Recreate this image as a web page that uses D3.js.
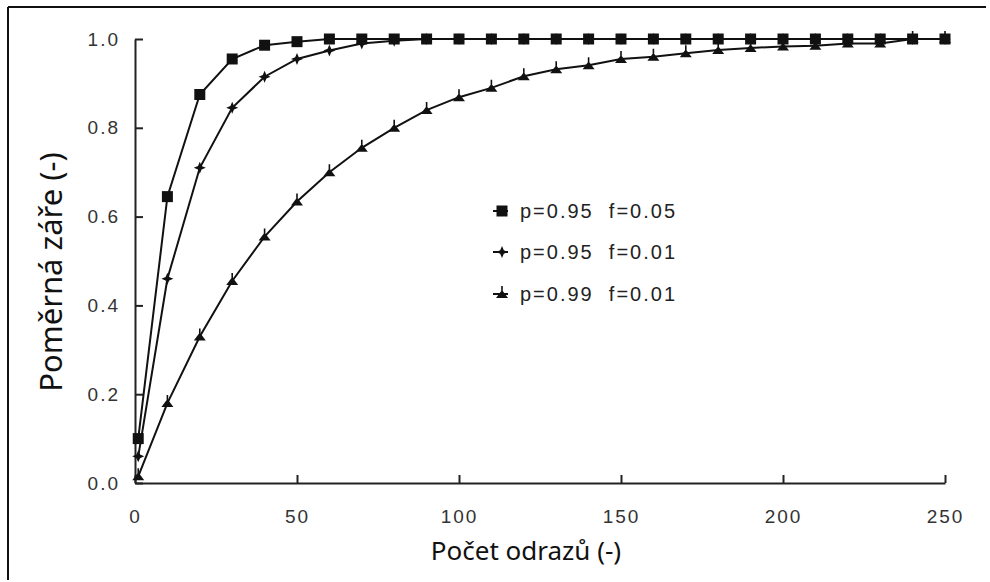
<!DOCTYPE html>
<html>
<head>
    <title>Poměrná záře</title>
</head>
<body>
<style type="text/css">
    body {
        margin: 0;
        background: #fff;
    }

    #renderer {
        width: 990px;
        height: 582px;
        background: #fff;
        display: block;
    }
</style>
<script type="text/javascript" src="https://cdnjs.cloudflare.com/ajax/libs/d3/7.8.5/d3.min.js"></script>
<svg id='renderer'></svg>

<script type="text/javascript">
    // data
    var xValues = [1, 10, 20, 30, 40, 50, 60, 70, 80, 90, 100, 110, 120, 130, 140, 150,
        160, 170, 180, 190, 200, 210, 220, 230, 240, 250];
    var seriesNames = ['p=0.95\u00a0\u00a0f=0.05', 'p=0.95\u00a0\u00a0f=0.01', 'p=0.99\u00a0\u00a0f=0.01'];
    var seriesA = [0.10, 0.645, 0.875, 0.955, 0.986, 0.994, 1, 1, 1, 1, 1, 1, 1, 1, 1, 1,
        1, 1, 1, 1, 1, 1, 1, 1, 1, 1];
    var seriesB = [0.06, 0.46, 0.71, 0.845, 0.915, 0.955, 0.974, 0.99, 0.996, 1, 1, 1, 1, 1, 1, 1,
        1, 1, 1, 1, 1, 1, 1, 1, 1, 1];
    var seriesC = [0.015, 0.18, 0.33, 0.455, 0.555, 0.634, 0.70, 0.755, 0.80, 0.84, 0.869, 0.89, 0.916, 0.932, 0.941, 0.955,
        0.96, 0.968, 0.975, 0.98, 0.983, 0.985, 0.99, 0.99, 1, 1];
    var xTicks = [0, 50, 100, 150, 200, 250];
    var yTicks = [0, 0.2, 0.4, 0.6, 0.8, 1.0];

    var root = d3.select('#renderer');

    var x = d3.scaleLinear().domain([0, 250]).range([135, 945]);
    var y = d3.scaleLinear().domain([0, 1]).range([483, 39]);

    // frame (only top and left edges are visible)
    root.append('line')
        .attr('x1', 8).attr('y1', 7).attr('x2', 986).attr('y2', 7)
        .attr('stroke', '#111').attr('stroke-width', 2);
    root.append('line')
        .attr('x1', 8).attr('y1', 7).attr('x2', 8).attr('y2', 580)
        .attr('stroke', '#111').attr('stroke-width', 2);

    var tickFont = '"Liberation Sans", Arial, sans-serif';
    var titleFont = '"Noto Sans", "DejaVu Sans", sans-serif';

    // axes
    var xAxis = root.append('g')
        .attr('transform', 'translate(0,' + y(0) + ')')
        .call(d3.axisBottom(x).tickValues(xTicks).tickSizeInner(-8).tickSizeOuter(0).tickPadding(27));

    var yAxis = root.append('g')
        .attr('transform', 'translate(' + x(0) + ',0)')
        .call(d3.axisLeft(y).tickValues(yTicks).tickFormat(d3.format('.1f'))
            .tickSizeInner(-8).tickSizeOuter(0).tickPadding(15));

    [xAxis, yAxis].forEach(function (ax) {
        ax.select('.domain').attr('stroke', '#222').attr('stroke-width', 2);
        ax.selectAll('.tick line').attr('stroke', '#222').attr('stroke-width', 2);
        ax.selectAll('.tick text')
            .attr('fill', '#333')
            .style('font-family', tickFont)
            .style('font-size', '19px')
            .style('letter-spacing', '2px');
    });

    // axis titles
    root.append('text')
        .text('Počet odrazů (-)')
        .attr('x', 526)
        .attr('y', 560)
        .attr('text-anchor', 'middle')
        .style('font-family', titleFont)
        .style('font-size', '26px')
        .attr('fill', '#111');

    root.append('text')
        .text('Poměrná záře (-)')
        .attr('transform', 'translate(62,272) rotate(-90)')
        .attr('text-anchor', 'middle')
        .style('font-family', titleFont)
        .style('font-size', '31px')
        .attr('fill', '#111');

    // marker shapes
    var squarePath = 'M-5.5,-5.5H5.5V5.5H-5.5Z';
    var starPath = 'M0,-6L1.8,-1.8L6,0L1.8,1.8L0,6L-1.8,1.8L-6,0L-1.8,-1.8Z';
    var trianglePath = 'M0,-4L6,4L-6,4Z M-0.8,-8H0.8V0H-0.8Z';
    var markerPaths = [squarePath, starPath, trianglePath];

    var allSeries = [seriesA, seriesB, seriesC];
    var line = d3.line()
        .x(function (d, i) { return x(xValues[i]); })
        .y(function (d) { return y(d); });

    // draw from the slowest series up so squares stay on top
    for (var s = allSeries.length - 1; s >= 0; s--) {
        var values = allSeries[s];
        root.append('path')
            .datum(values)
            .attr('d', line)
            .attr('fill', 'none')
            .attr('stroke', '#111')
            .attr('stroke-width', 2);

        root.append('g')
            .selectAll('path')
            .data(values)
            .enter()
            .append('path')
            .attr('d', markerPaths[s])
            .attr('transform', function (d, i) {
                return 'translate(' + x(xValues[i]) + ',' + y(d) + ')';
            })
            .attr('fill', '#111');
    }

    // legend
    var legendX = 502;
    var legendY = [211, 252, 294];
    for (var k = 0; k < seriesNames.length; k++) {
        root.append('line')
            .attr('x1', legendX - 9).attr('x2', legendX + 6)
            .attr('y1', legendY[k]).attr('y2', legendY[k])
            .attr('stroke', '#111').attr('stroke-width', 2);
        root.append('path')
            .attr('d', markerPaths[k])
            .attr('transform', 'translate(' + legendX + ',' + legendY[k] + ')')
            .attr('fill', '#111');
        root.append('text')
            .text(seriesNames[k])
            .attr('x', legendX + 18)
            .attr('y', legendY[k])
            .attr('dy', '0.35em')
            .attr('fill', '#222')
            .style('font-family', tickFont)
            .style('font-size', '20px')
            .style('letter-spacing', '2px');
    }
</script>
</body>
</html>
